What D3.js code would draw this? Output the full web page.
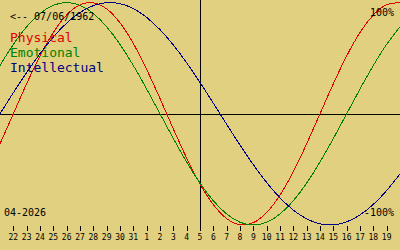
<!DOCTYPE html>
<html>
<head>
<meta charset="utf-8">
<script src="https://cdn.jsdelivr.net/npm/d3@7"></script>
<style>
html,body{margin:0;padding:0;background:#e0d080;}
svg{display:block;}
text{font-family:"DejaVu Sans Mono","Liberation Mono",monospace;}
</style>
</head>
<body>
<svg id="c" width="400" height="250"></svg>
<script>
// Days shown (21 Mar .. 20 Apr 2026); edges are partial
const days = [21,22,23,24,25,26,27,28,29,30,31,1,2,3,4,5,6,7,8,9,10,11,12,13,14,15,16,17,18,19,20];
const physical = [-0.2698,0,0.2698,0.5196,0.7308,0.8879,0.9791,0.9977,0.9423,0.8170,0.6311,0.3984,0.1362,-0.1362,-0.3984,-0.6311,-0.8170,-0.9423,-0.9977,-0.9791,-0.8879,-0.7308,-0.5196,-0.2698,0,0.2698,0.5196,0.7308,0.8879,0.9791,0.9977];
const emotional = [0.4339,0.6235,0.7818,0.9010,0.9749,1,0.9749,0.9010,0.7818,0.6235,0.4339,0.2225,0,-0.2225,-0.4339,-0.6235,-0.7818,-0.9010,-0.9749,-1,-0.9749,-0.9010,-0.7818,-0.6235,-0.4339,-0.2225,0,0.2225,0.4339,0.6235,0.7818];
const intellectual = [0,0.1893,0.3717,0.5406,0.6901,0.8146,0.9096,0.9718,0.9989,0.9898,0.9450,0.8660,0.7557,0.6182,0.4582,0.2817,0.0951,-0.0951,-0.2817,-0.4582,-0.6182,-0.7557,-0.8660,-0.9450,-0.9898,-0.9989,-0.9718,-0.9096,-0.8146,-0.6901,-0.5406];
const seriesNames = ["Physical","Emotional","Intellectual"];
const seriesColors = ["#e00000","#008000","#000080"];
const birthLabel = "<-- 07/06/1962";
const monthLabel = "04-2026";
const topLabel = "100%";
const bottomLabel = "-100%";
const todayIndex = 15; // index in days (5 Apr)

const svg = d3.select("#c");
const x = d3.scaleLinear().domain([0, days.length - 1]).range([0, 400]);
const y = d3.scaleLinear().domain([-1, 1]).range([225, 2.5]);

svg.append("rect").attr("width",400).attr("height",250).attr("fill","#e0d080");

// axes lines
svg.append("line").attr("x1",0).attr("x2",400).attr("y1",114.5).attr("y2",114.5)
  .attr("stroke","#000").attr("stroke-width",1);
svg.append("line").attr("x1",Math.round(x(todayIndex))+0.5).attr("x2",Math.round(x(todayIndex))+0.5)
  .attr("y1",0).attr("y2",231).attr("stroke","#000").attr("stroke-width",1);

// ticks
const tickIdx = d3.range(1, days.length - 1);
const g = svg.append("g");
g.selectAll("line.t").data(tickIdx.filter(i => i !== todayIndex)).join("line")
  .attr("x1", i => Math.round(x(i)) + 0.5).attr("x2", i => Math.round(x(i)) + 0.5)
  .attr("y1", 226).attr("y2", 231).attr("stroke","#000");
g.selectAll("text.t").data(tickIdx).join("text")
  .attr("x", i => x(i)).attr("y", 240)
  .attr("text-anchor","middle").attr("font-size","8px").attr("fill","#000")
  .text(i => days[i]);

// curves
const line = d3.line().x((d,i) => x(i)).y(d => y(d)).curve(d3.curveNatural);
[physical, emotional, intellectual].forEach((s, k) => {
  svg.append("path").attr("d", line(s)).attr("fill","none")
    .attr("stroke", seriesColors[k]).attr("stroke-width",1)
    .attr("shape-rendering","crispEdges");
});

// labels
svg.append("text").attr("x",10).attr("y",20).attr("font-size","10px").attr("fill","#000").text(birthLabel);
seriesNames.forEach((n,k) => {
  svg.append("text").attr("x",10).attr("y",42 + k*15).attr("font-size","13px")
    .attr("fill", seriesColors[k]).text(n);
});
svg.append("text").attr("x",394).attr("y",16).attr("text-anchor","end").attr("font-size","10px").attr("fill","#000").text(topLabel);
svg.append("text").attr("x",394).attr("y",216).attr("text-anchor","end").attr("font-size","10px").attr("fill","#000").text(bottomLabel);
svg.append("text").attr("x",4).attr("y",216).attr("font-size","10px").attr("fill","#000").text(monthLabel);
</script>
</body>
</html>
